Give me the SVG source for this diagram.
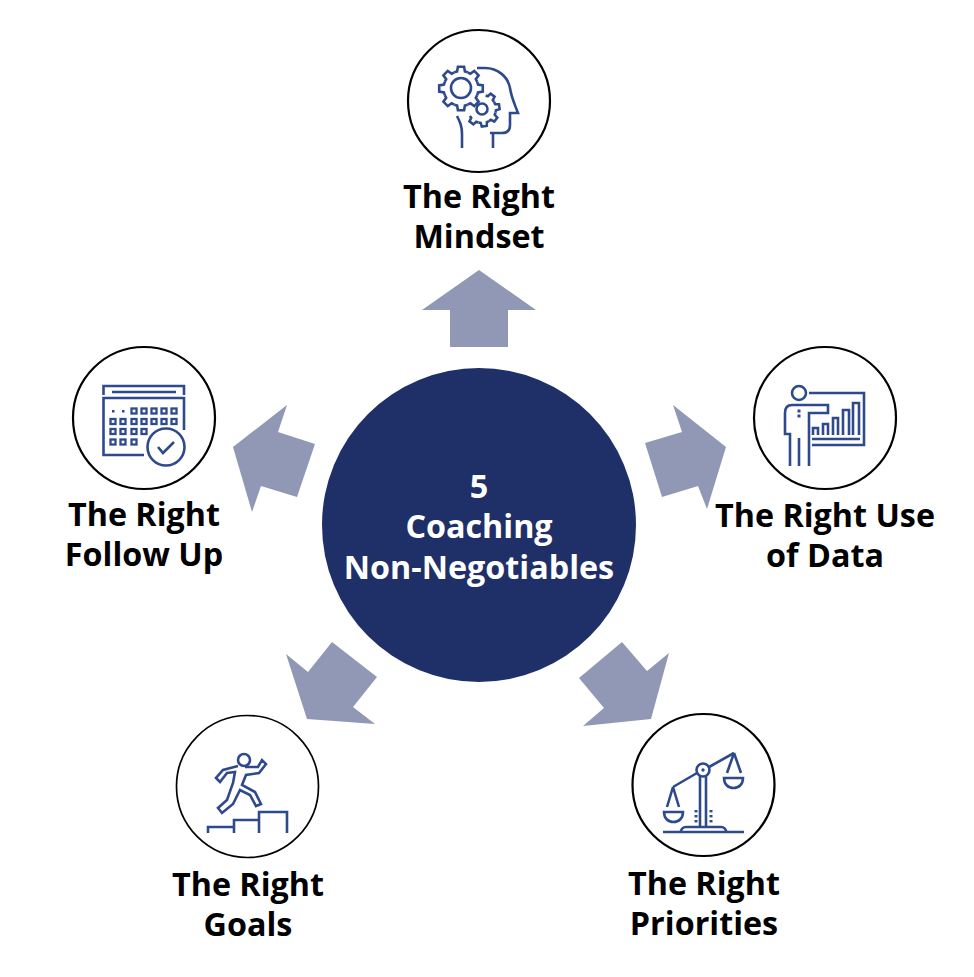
<svg xmlns="http://www.w3.org/2000/svg" width="974" height="977" viewBox="0 0 974 977">
<style>
.lbl{font-family:"Open Sans","Noto Sans","Liberation Sans",sans-serif;font-weight:700;font-size:32.3px;fill:#000;text-anchor:middle}
.ctr{fill:#fff}
.ring{fill:#fff;stroke:#000;stroke-width:2.2}
.ic{fill:none;stroke:#2f4a8c;stroke-width:2.6}
.icf{fill:#2f4a8c}
.sq{fill:none;stroke:#2f4a8c;stroke-width:2.3}
.arr{fill:#9098b6}
</style>
<defs>
<path id="tooth" d="M-6.7,-16.2L-3.9,-17.05L-3.1,-21.8L3.1,-21.8L3.9,-17.05L6.7,-16.2"/>
<rect id="sq" x="-2.5" y="-2.5" width="5" height="5"/>
</defs>
<rect width="974" height="977" fill="#fff"/>
<g id="connectors">
<polygon class="arr" points="479,270 536,310 508,310 508,347 450,347 450,310 422,310"/>
<polygon class="arr" points="673,405 726,447 707,509 698,486 662,497 645,443 682,432"/>
<polygon class="arr" points="622,642 647,671 669,653 651,719 583,726 604,708 579,678"/>
<polygon class="arr" points="286,654 308,672 332,642 377,677 353,707 375,724 307,719"/>
<polygon class="arr" points="287,405 278,432 315,444 297,497 261,486 252,512 233,447"/>
</g>
<g id="center">
<circle cx="479" cy="525" r="157" fill="#1f2f68"/>
<text class="lbl ctr" x="479" y="498">5</text>
<text class="lbl ctr" x="479" y="538">Coaching</text>
<text class="lbl ctr" x="479" y="579">Non-Negotiables</text>
</g>
<g id="mindset">
<circle class="ring" cx="479" cy="101" r="71"/>
<g class="ic">
<circle cx="461" cy="88" r="10"/>
<g transform="translate(461,88.5)">
<use href="#tooth" transform="rotate(0)"/><use href="#tooth" transform="rotate(45)"/><use href="#tooth" transform="rotate(90)"/><use href="#tooth" transform="rotate(135)"/><use href="#tooth" transform="rotate(180)"/><use href="#tooth" transform="rotate(225)"/><use href="#tooth" transform="rotate(270)"/><use href="#tooth" transform="rotate(315)"/>
</g>
<circle cx="482" cy="109" r="5.5"/>
<g transform="translate(482,109) scale(.8)" stroke-width="3.2">
<use href="#tooth" transform="rotate(37.5)"/><use href="#tooth" transform="rotate(82.5)"/><use href="#tooth" transform="rotate(127.5)"/><use href="#tooth" transform="rotate(172.5)"/><use href="#tooth" transform="rotate(217.5)"/>
</g>
<path d="M477,68H485C498,68 508,77 510,88C511,96 513,100 518,113H510V125Q510,133 502,133H490M493,133V148"/>
<path d="M457,116C460,122 462,126 462,134V148"/>
</g>
</g>
<g id="data">
<circle class="ring" cx="825" cy="418" r="71"/>
<g class="ic">
<circle cx="799" cy="393" r="7"/>
<path d="M809,393H864V445H812"/>
<path d="M812,439H860"/>
<path d="M790,466V434H785V413Q785,405 792,405H828V413H809V466"/>
<path d="M799,438V466"/>
<path d="M813,435V428H818V435M823,435V424H828V435M833,435V418H838V435M843,435V410H849V435M853,435V403H859V435"/>
</g>
<rect class="icf" x="797.5" y="409.5" width="3" height="3"/>
<rect class="icf" x="797.5" y="414.5" width="3" height="3"/>
</g>
<g id="priorities">
<circle class="ring" cx="703.5" cy="785" r="71"/>
<g class="ic">
<circle cx="703" cy="770" r="6.5"/>
<path d="M697,773L673,787M709,767L734,753"/>
<path d="M700,776V827M706,776V827"/>
<path d="M673,787L667,807M673,787L679,807"/>
<path d="M664,812H683C683,818 679,822 673.5,822S664,818 664,812Z"/>
<path d="M734,753L727,773M734,753L741,773"/>
<path d="M724,778H743C743,784 739,788 733.5,788S724,784 724,778Z"/>
<path d="M681,832C681,829 683,827 686,827H721C724,827 726,829 726,832"/>
<path d="M663,832H744"/>
</g>
<circle class="icf" cx="703" cy="770" r="1.7"/>
<g class="icf"><rect x="694.5" y="810" width="3" height="2.4"/><rect x="694.5" y="815" width="3" height="2.4"/><rect x="694.5" y="820" width="3" height="2.4"/><rect x="709.5" y="810" width="3" height="2.4"/><rect x="709.5" y="815" width="3" height="2.4"/><rect x="709.5" y="820" width="3" height="2.4"/></g>
</g>
<g id="goals">
<circle class="ring" cx="247.5" cy="786.5" r="71" style="stroke-width:1.7"/>
<g class="ic">
<circle cx="244" cy="760" r="6"/>
<path d="M245,767H258L262,760L266,764L259,773L246,775L242,785L255,792L261,804L256,806L250,795L240,790L233,804L222,813L218,808L227,800L233,783L235,772L227,773L220,782L216,778L223,770L238,766"/>
<path d="M208,833V827H234V833M234,827V820H259V833M259,820V812H287V833"/>
</g>
</g>
<g id="followup">
<circle class="ring" cx="144" cy="418" r="71"/>
<g class="ic">
<path d="M103.5,395V386H184V395"/>
<path d="M112,392H176"/>
<path d="M184,430V398H103.5V455H144"/>
<circle cx="166" cy="447" r="18.5"/>
<path d="M158,447L163,453L174,442"/>
</g>
<g class="icf">
<rect x="112" y="410" width="2.5" height="2.5"/><rect x="122" y="410" width="2.5" height="2.5"/>
</g>
<g class="sq">
<use href="#sq" x="134" y="411"/><use href="#sq" x="144" y="411"/><use href="#sq" x="154" y="411"/><use href="#sq" x="164" y="411"/><use href="#sq" x="174" y="411"/>
<use href="#sq" x="113" y="421.5"/><use href="#sq" x="123" y="421.5"/><use href="#sq" x="134" y="421.5"/><use href="#sq" x="144" y="421.5"/><use href="#sq" x="154" y="421.5"/><use href="#sq" x="164" y="421.5"/><use href="#sq" x="174" y="421.5"/>
<use href="#sq" x="113" y="431.5"/><use href="#sq" x="123" y="431.5"/><use href="#sq" x="134" y="431.5"/><use href="#sq" x="144" y="431.5"/>
<use href="#sq" x="113" y="442"/><use href="#sq" x="123" y="442"/><use href="#sq" x="134" y="442"/>
</g>
</g>
<g id="labels">
<text class="lbl" x="479" y="208">The Right</text>
<text class="lbl" x="479" y="248">Mindset</text>
<text class="lbl" x="825" y="527">The Right Use</text>
<text class="lbl" x="825" y="567">of Data</text>
<text class="lbl" x="704" y="895">The Right</text>
<text class="lbl" x="704" y="935">Priorities</text>
<text class="lbl" x="248" y="896">The Right</text>
<text class="lbl" x="248" y="936">Goals</text>
<text class="lbl" x="144" y="526">The Right</text>
<text class="lbl" x="144" y="566">Follow Up</text>
</g>
</svg>
